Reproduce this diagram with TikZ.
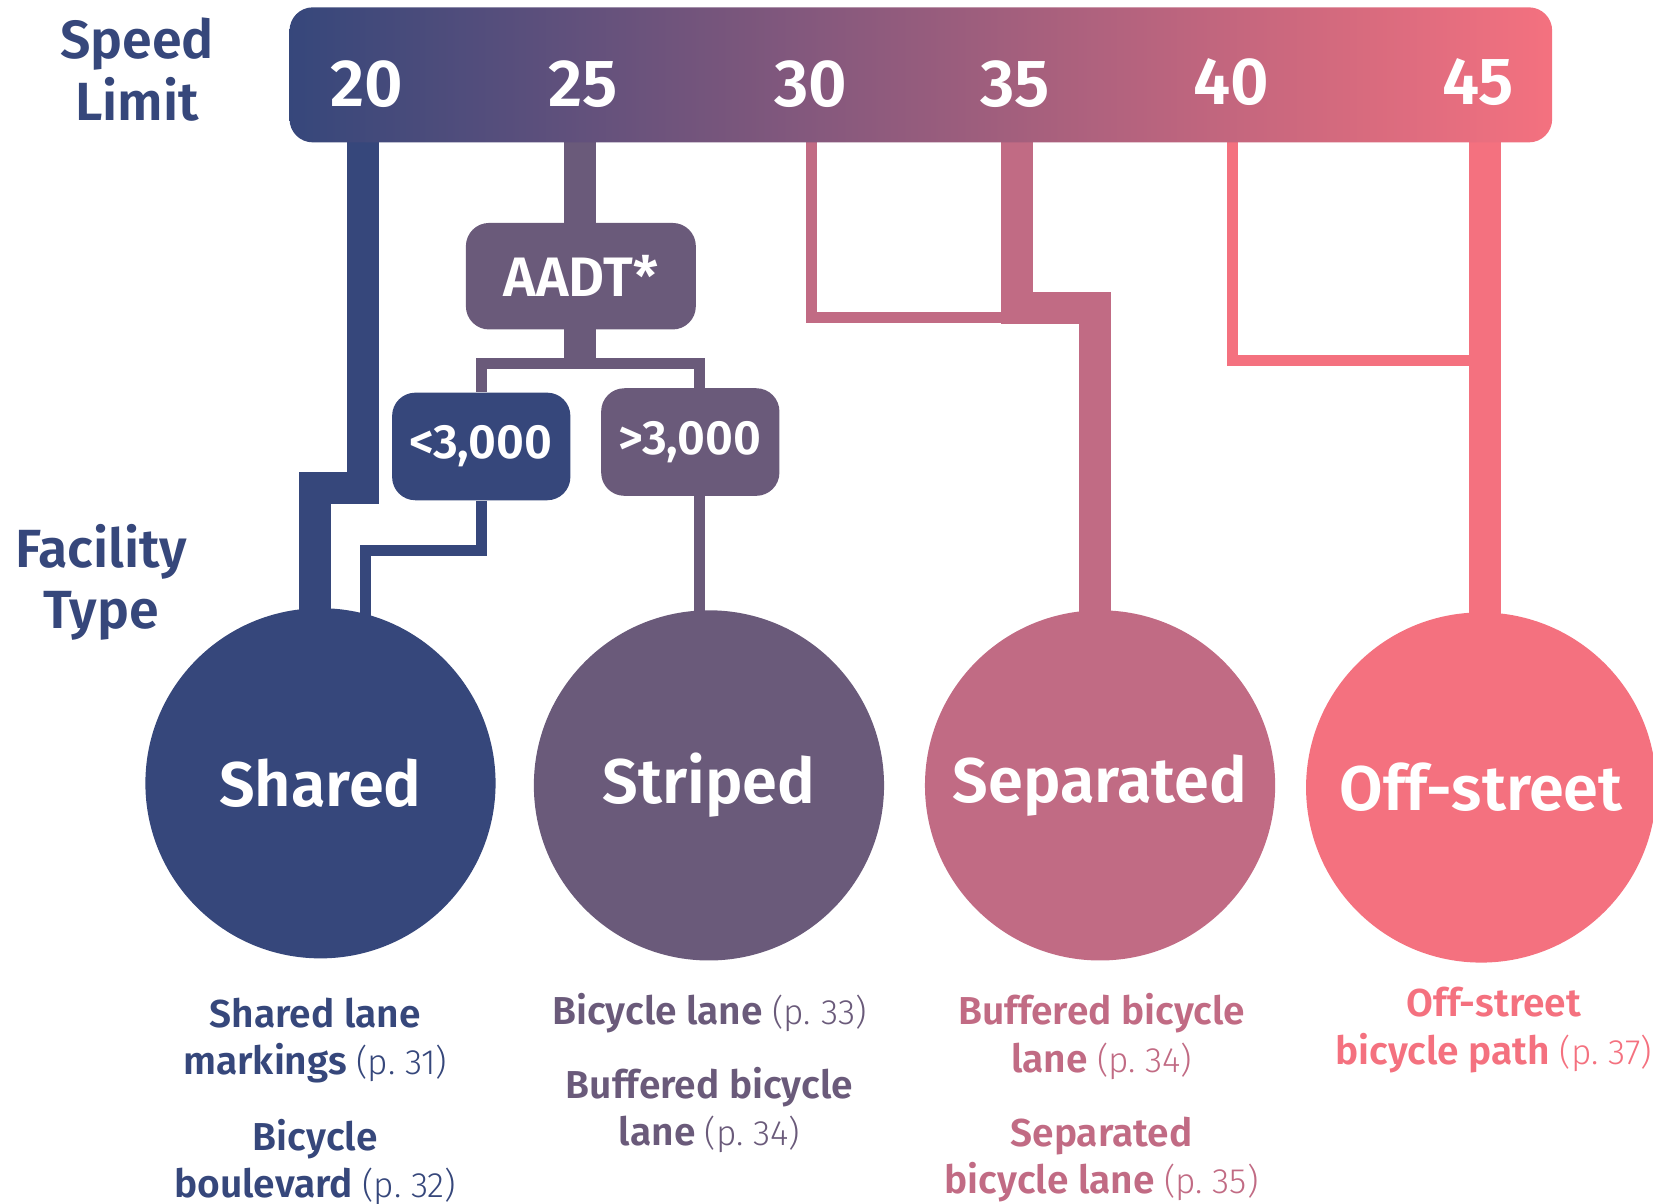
\documentclass[tikz,border=0pt]{standalone}
\usepackage{fontspec}
\setmainfont{Fira Sans}[BoldFont={Fira Sans SemiBold}]
\newfontfamily\lightfont{Fira Sans Light}
\usetikzlibrary{calc}
\definecolor{cblue}{HTML}{36477B}
\definecolor{cpurple}{HTML}{6A5A7A}
\definecolor{crose}{HTML}{C16B84}
\definecolor{cpink}{HTML}{F4717F}
\pgfdeclarelayer{background}
\pgfsetlayers{background,main}
\newcommand{\pgref}[1]{{\lightfont\mdseries\fontsize{9.5}{12}\selectfont #1}}

\begin{document}
\begin{tikzpicture}[x=0.01cm, y=-0.01cm,
	heading/.style={font=\fontsize{14.5}{16.5}\selectfont\bfseries, text=cblue, align=center},
	speed/.style={font=\fontsize{18}{20}\selectfont\bfseries, text=white},
	aadt/.style={rounded corners=0.22cm, text=white, font=\fontsize{13}{15}\selectfont\bfseries, minimum width=1.69cm, minimum height=1.02cm},
	facility/.style={circle, minimum size=3.32cm, inner sep=0pt, text=white, font=\fontsize{17}{20}\selectfont\bfseries},
	desc/.style={align=center, font=\fontsize{10.5}{12.8}\selectfont\bfseries},
	wide/.style={line width=0.305cm},
	narrow/.style={line width=0.104cm}]
	\useasboundingbox (0,0) rectangle (1568,1142);
	\node[heading] (speedlbl) at (130,66) {Speed\\Limit};
	\node[heading] (faclbl) at (96,552) {Facility\\Type};
	\node[rounded corners=0.22cm, left color=cblue, right color=cpink, minimum width=11.97cm, minimum height=1.28cm] (bar) at (873.5,71) {};
	\node[speed] (s20) at (348,80) {20};
	\node[speed] (s25) at (553,80) {25};
	\node[speed] (s30) at (769,80) {30};
	\node[speed] (s35) at (963,80) {35};
	\node[speed] (s40) at (1168,78) {40};
	\node[speed] (s45) at (1402,78) {45};
	% AADT split
	\node[aadt, fill=cpurple, minimum width=2.18cm, minimum height=1.01cm, font=\fontsize{15}{17}\selectfont\bfseries] (aadt) at (551,262) {AADT*};
	\node[aadt, fill=cblue] (low) at (456.5,423.5) {<3,000};
	\node[aadt, fill=cpurple] (high) at (654.8,419.3) {>3,000};
	% facility types
	\node[facility, fill=cblue] (shared) at (304,743) {Shared};
	\node[facility, fill=cpurple] (striped) at (672.5,745) {Striped};
	\node[facility, fill=crose] (separated) at (1043.5,745) {Separated};
	\node[facility, fill=cpink] (offstreet) at (1405,747) {Off-street};
	\node[desc, text=cblue] (sh1) at (299,987) {Shared lane\\markings \pgref{(p.~31)}};
	\node[desc, text=cblue] (sh2) at (299,1102) {Bicycle\\boulevard \pgref{(p.~32)}};
	\node[desc, text=cpurple] (st1) at (673,961) {Bicycle lane \pgref{(p.~33)}};
	\node[desc, text=cpurple] (st2) at (673,1053) {Buffered bicycle\\lane \pgref{(p.~34)}};
	\node[desc, text=crose] (se1) at (1045,983) {Buffered bicycle\\lane \pgref{(p.~34)}};
	\node[desc, text=crose] (se2) at (1045,1100) {Separated\\bicycle lane \pgref{(p.~35)}};
	\node[desc, text=cpink] (of1) at (1417,977) {Off-street\\bicycle path \pgref{(p.~37)}};
	\coordinate (t20) at (344.5,80);
	\coordinate (t25) at (550.5,80);
	\coordinate (t30) at (769.6,80);
	\coordinate (t35) at (964.8,80);
	\coordinate (t40) at (1169,80);
	\coordinate (t45) at (1408.5,80);
	\coordinate (sharedbend) at (298.5,463);
	\coordinate (split) at (550.5,345);
	\coordinate (lowbend) at (347,522.5);
	\coordinate (highdrop) at ([xshift=0.09cm]high.center);
	\coordinate (join30) at (964.8,301.4);
	\coordinate (sepbend) at (1039,292);
	\coordinate (join40) at (1408.5,342.3);
	\begin{pgfonlayer}{background}
	\draw[wide, cblue] (t20) |- (sharedbend) -- (sharedbend |- shared.center);
	\draw[wide, cpurple] (t25) -- (t25 |- split);
	\draw[narrow, cpurple] (low) |- (split) -| (highdrop);
	\draw[narrow, cblue] (low) |- (lowbend) -- (lowbend |- shared.center);
	\draw[narrow, cpurple] (highdrop) -- (highdrop |- striped.center);
	\draw[narrow, crose] (t30) |- (join30);
	\draw[wide, crose] (t35) |- (sepbend) -- (sepbend |- separated.center);
	\draw[narrow, cpink] (t40) |- (join40);
	\draw[wide, cpink] (t45) -- (t45 |- offstreet.center);
	\end{pgfonlayer}
\end{tikzpicture}
\end{document}
